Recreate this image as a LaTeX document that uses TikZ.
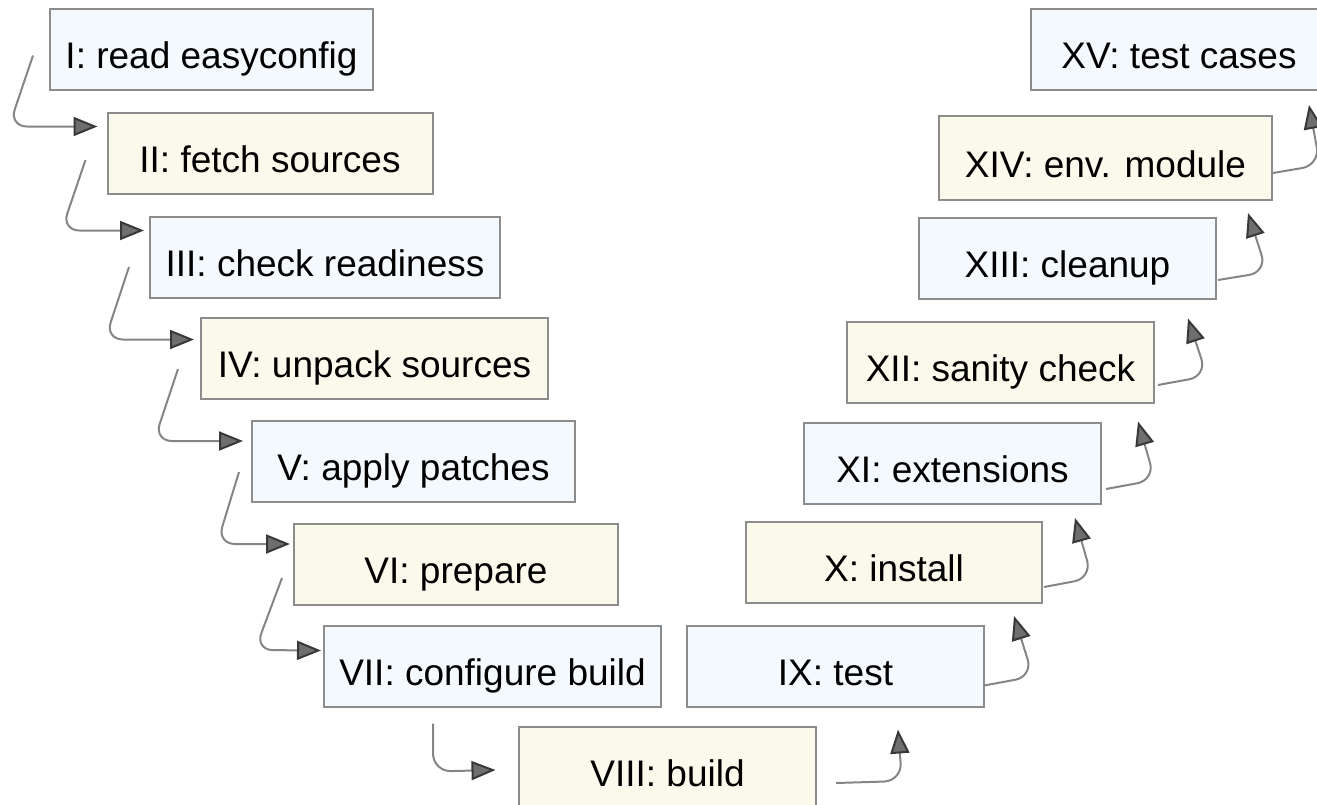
\documentclass[tikz,border=0pt]{standalone}
\usepackage{xcolor}
\usepackage{fontspec}
\setmainfont{Liberation Sans}
\usepackage{tikz}
\usetikzlibrary{arrows.meta}

\definecolor{boxgray}{HTML}{8C8C8C}
\definecolor{boxblue}{HTML}{F4F9FE}
\definecolor{boxyellow}{HTML}{FBF9EC}
\definecolor{linegray}{HTML}{858585}
\definecolor{tipgray}{HTML}{6E6E6E}
\definecolor{tipline}{HTML}{383838}

\tikzset{
  stepbox/.style={draw=boxgray, line width=2pt, minimum height=81pt, inner sep=0pt,
    text height=46pt, text depth=8pt, font=\fontsize{37}{44}\selectfont},
  bluebox/.style={stepbox, fill=boxblue},
  yellowbox/.style={stepbox, fill=boxyellow},
  flow/.style={draw=linegray, line width=2pt, rounded corners=18pt,
    -{Triangle[length=24pt, width=19pt, line width=2pt, color=tipline, fill=tipgray]}}
}

\begin{document}
\begin{tikzpicture}[x=1pt, y=-1pt]
    \useasboundingbox (0,0) rectangle (1317,804);

    % Steps going down
    \node[bluebox,   minimum width=323pt] (rd)     at (211.5,49.5)  {I: read easyconfig};
    \node[yellowbox, minimum width=325pt] (fetch)  at (270,153.5)   {II: fetch sources};
    \node[bluebox,   minimum width=350pt] (ready)  at (325,257.5)   {III: check readiness};
    \node[yellowbox, minimum width=347pt] (unpack) at (374.5,358.5) {IV: unpack sources};
    \node[bluebox,   minimum width=323pt] (patch)  at (413.5,461.5) {V: apply patches};
    \node[yellowbox, minimum width=324pt] (prep)   at (456,564.5)   {VI: prepare};
    \node[bluebox,   minimum width=337pt] (conf)   at (492.5,666)   {VII: configure build};

    % Bottom
    \node[yellowbox, minimum width=297pt] (build)  at (667.5,767)   {VIII: build};

    % Steps going up
    \node[bluebox,   minimum width=297pt] (test)   at (835.5,666)   {IX: test};
    \node[yellowbox, minimum width=296pt] (inst)   at (894,562.5)   {X: install};
    \node[bluebox,   minimum width=297pt] (ext)    at (952.5,463.5) {XI: extensions};
    \node[yellowbox, minimum width=307pt] (sanity) at (1000.5,362)  {XII: sanity check};
    \node[bluebox,   minimum width=297pt] (clean)  at (1067.5,258)  {XIII: cleanup};
    \node[yellowbox, minimum width=333pt, minimum height=84pt] (envmod) at (1105.5,158) {XIV: env. module};
    \node[bluebox,   minimum width=296pt] (tests)  at (1179,49.5)   {XV: test cases};

    % Arrows on the left
    \draw[flow] ([shift={(-16,6)}]rd.west) -- ++(-24,71) -- ([shift={(-9,-27)}]fetch.west);
    \draw[flow] ([shift={(-21,6.5)}]fetch.west) -- ++(-24,70.5) -- ([shift={(-5,-27)}]ready.west);
    \draw[flow] ([shift={(-20,9.5)}]ready.west) -- ++(-24,72.5) -- ([shift={(-6,-19)}]unpack.west);
    \draw[flow] ([shift={(-22,10.5)}]unpack.west) -- ++(-24,72) -- ([shift={(-8,-20.5)}]patch.west);
    \draw[flow] ([shift={(-12,10.5)}]patch.west) -- ++(-22,72) -- ([shift={(-3,-20.5)}]prep.west);
    \draw[flow] ([shift={(-11,13.5)}]prep.west) -- ++(-27,72) -- ([shift={(-2,-15.5)}]conf.west);
    \draw[flow] ([shift={(-59.5,16)}]conf.south) -- ++(0,48) -- ([shift={(-22.5,3)}]build.west);

    % Arrows on the right
    \draw[flow] ([shift={(19,16)}]build.east) -- ++(66,-2) -- ([shift={(62.5,22)}]test.south);
    \draw[flow] ([shift={(-1,19.5)}]test.east) -- ++(49,-9) -- ([shift={(-29,12)}]inst.south east);
    \draw[flow] ([shift={(1,24.5)}]inst.east) -- ++(48,-9) -- ([shift={(-27,13)}]ext.south east);
    \draw[flow] ([shift={(4,25.5)}]ext.east) -- ++(49,-9) -- ([shift={(-17,18)}]sanity.south east);
    \draw[flow] ([shift={(3,23)}]sanity.east) -- ++(49,-9) -- ([shift={(-29,19)}]clean.south east);
    \draw[flow] ([shift={(1,22)}]clean.east) -- ++(49,-8) -- ([shift={(-25,12)}]envmod.south east);
    \draw[flow] ([shift={(0,15)}]envmod.east) -- ++(47,-8) -- ([shift={(-19,14)}]tests.south east);

\end{tikzpicture}
\end{document}
